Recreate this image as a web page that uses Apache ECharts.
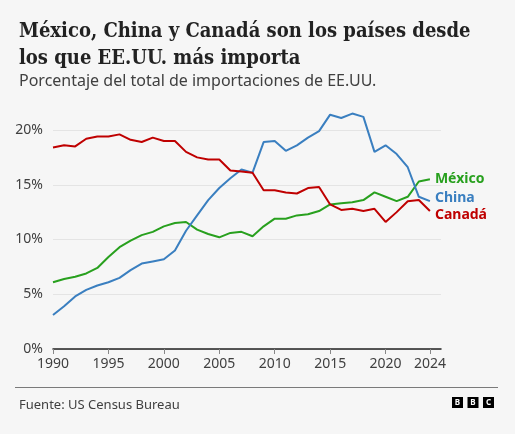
<!DOCTYPE html>
<html>
<head>
<meta charset="utf-8">
<script src="https://cdn.jsdelivr.net/npm/echarts@6/dist/echarts.min.js"></script>
<style>
html,body{margin:0;padding:0;background:#f6f6f6;}
#c{width:515px;height:434px;}
</style>
</head>
<body>
<div id="c"></div>
<script>
var years = [1990,1991,1992,1993,1994,1995,1996,1997,1998,1999,2000,2001,2002,2003,2004,2005,2006,2007,2008,2009,2010,2011,2012,2013,2014,2015,2016,2017,2018,2019,2020,2021,2022,2023,2024];
var mexico = [6.1,6.4,6.6,6.9,7.4,8.4,9.3,9.9,10.4,10.7,11.2,11.5,11.6,10.9,10.5,10.2,10.6,10.7,10.3,11.2,11.9,11.9,12.2,12.3,12.6,13.2,13.3,13.4,13.6,14.3,13.9,13.5,13.9,15.3,15.5];
var china = [3.1,3.9,4.8,5.4,5.8,6.1,6.5,7.2,7.8,8.0,8.2,9.0,10.8,12.2,13.6,14.7,15.6,16.4,16.1,18.9,19.0,18.1,18.6,19.3,19.9,21.4,21.1,21.5,21.2,18.0,18.6,17.8,16.6,13.9,13.5];
var canada = [18.4,18.6,18.5,19.2,19.4,19.4,19.6,19.1,18.9,19.3,19.0,19.0,18.0,17.5,17.3,17.3,16.3,16.2,16.1,14.5,14.5,14.3,14.2,14.7,14.8,13.2,12.7,12.8,12.6,12.8,11.6,12.5,13.5,13.6,12.6];
var xTickLabels = [1990,1995,2000,2005,2010,2015,2020,2024];
var yTicks = [0,5,10,15,20];

function pairs(arr){ return years.map(function(y,i){ return [y, arr[i]]; }); }

var chart = echarts.init(document.getElementById('c'), null, {renderer:'canvas'});
var sans = '"Noto Sans", "Open Sans", sans-serif';

function mkSeries(name, data, color, dy){
  return {
    name: name, type: 'line', data: pairs(data), clip: false,
    symbol: 'none', smooth: false,
    lineStyle: {color: color, width: 2},
    itemStyle: {color: color},
    endLabel: {show: true, formatter: name, color: color, fontFamily: sans,
      fontSize: 14, fontWeight: 'bold', distance: 5, offset: [0, dy]},
    emphasis: {disabled: true}
  };
}

chart.setOption({
  backgroundColor: '#f6f6f6',
  animation: false,
  title: [{
    text: 'México, China y Canadá son los países desde\nlos que EE.UU. más importa',
    left: 14, top: 13,
    textStyle: {fontFamily: '"DejaVu Serif Condensed", "Liberation Serif", serif', fontWeight: 'bold', fontSize: 20, lineHeight: 27, color: '#222222'}
  },{
    text: 'Porcentaje del total de importaciones de EE.UU.',
    left: 14, top: 68,
    textStyle: {fontFamily: sans, fontWeight: 'normal', fontSize: 16, color: '#404040'}
  },{
    text: 'Fuente: US Census Bureau',
    left: 14, top: 394,
    textStyle: {fontFamily: sans, fontWeight: 'normal', fontSize: 13, color: '#404040'}
  }],
  grid: {left: 53, right: 74, top: 130, bottom: 85, containLabel: false},
  xAxis: {
    type: 'value', min: 1990, max: 2025, interval: 5,
    axisLine: {show: true, lineStyle: {color: '#222222', width: 1.5}},
    axisTick: {show: true, length: 5, customValues: xTickLabels, lineStyle: {color: '#888888'}},
    axisLabel: {customValues: xTickLabels, color: '#404040', fontFamily: sans, fontSize: 14, margin: 8,
      formatter: function(v){ return String(v); }},
    splitLine: {show: false}
  },
  yAxis: {
    type: 'value', min: 0, max: 20, interval: 5,
    axisLine: {show: false}, axisTick: {show: false},
    axisLabel: {color: '#404040', fontFamily: sans, fontSize: 14, margin: 10,
      formatter: function(v){ return yTicks.indexOf(v) >= 0 ? v + '%' : ''; }},
    splitLine: {show: true, lineStyle: {color: '#e4e4e4', width: 1}}
  },
  series: [
    mkSeries('México', mexico, '#28a01e', 0),
    mkSeries('China', china, '#3a7fc0', -3),
    mkSeries('Canadá', canada, '#bf0000', 4)
  ],
  graphic: [
    {type: 'line', shape: {x1: 15, y1: 387.5, x2: 498, y2: 387.5}, style: {stroke: '#7a7a7a', lineWidth: 1}},
    {type: 'rect', shape: {x: 452, y: 397, width: 11, height: 11}, style: {fill: '#000'}},
    {type: 'rect', shape: {x: 467.5, y: 397, width: 11, height: 11}, style: {fill: '#000'}},
    {type: 'rect', shape: {x: 483, y: 397, width: 11, height: 11}, style: {fill: '#000'}},
    {type: 'text', x: 457.5, y: 402.5, style: {text: 'B', fill: '#fff', font: 'bold 8px ' + sans, align: 'center', verticalAlign: 'middle'}},
    {type: 'text', x: 473, y: 402.5, style: {text: 'B', fill: '#fff', font: 'bold 8px ' + sans, align: 'center', verticalAlign: 'middle'}},
    {type: 'text', x: 488.5, y: 402.5, style: {text: 'C', fill: '#fff', font: 'bold 8px ' + sans, align: 'center', verticalAlign: 'middle'}}
  ]
});
</script>
</body>
</html>
